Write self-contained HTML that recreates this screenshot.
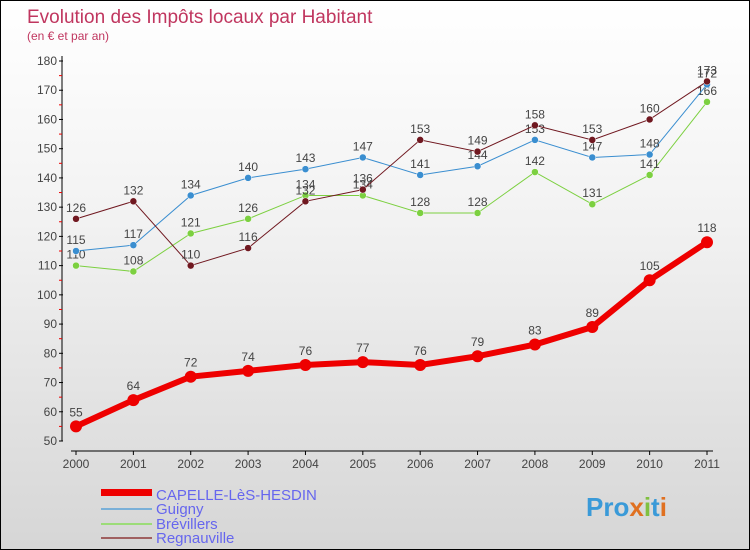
<!DOCTYPE html>
<html><head><meta charset="utf-8"><style>
body{margin:0}
#c{width:750px;height:550px;position:relative;overflow:hidden;box-sizing:border-box;border:1px solid #000;background:linear-gradient(#fff,#f2f2f2 40%,#d6d6d6);font-family:"Liberation Sans",sans-serif}
</style></head><body>
<div id="c">
<svg id="s" width="750" height="550" style="position:absolute;left:0;top:0">
<text x="26" y="22" font-size="19" fill="#c0365f">Evolution des Impôts locaux par Habitant</text>
<text x="26" y="39" font-size="12" fill="#c0365f">(en € et par an)</text>
<g id="g"></g>
<g>
<rect x="100" y="488" width="51" height="7" fill="#e00"/>
<text x="155" y="499" font-size="15" fill="#6666ee">CAPELLE-LèS-HESDIN</text>
<rect x="100" y="507" width="51" height="2" fill="#7ab0d8"/>
<text x="155" y="513" font-size="15" fill="#6666ee">Guigny</text>
<rect x="100" y="522" width="51" height="2" fill="#9cdc78"/>
<text x="155" y="528" font-size="15" fill="#6666ee">Brévillers</text>
<rect x="100" y="536" width="51" height="2" fill="#a06060"/>
<text x="155" y="542" font-size="15" fill="#6666ee">Regnauville</text>
</g>
<text x="585" y="515" font-size="26" font-weight="bold" fill="#3a9ad8">Pro<tspan fill="#e07020">x</tspan><tspan fill="#80c040">i</tspan>t<tspan fill="#e07020">i</tspan></text>
</svg>
</div>
<script>
const years=[2000,2001,2002,2003,2004,2005,2006,2007,2008,2009,2010,2011];
const capelle=[55,64,72,74,76,77,76,79,83,89,105,118];
const guigny=[115,117,134,140,143,147,141,144,153,147,148,172];
const brevillers=[110,108,121,126,134,134,128,128,142,131,141,166];
const regnauville=[126,132,110,116,132,136,153,149,158,153,160,173];
const yTicks=[50,60,70,80,90,100,110,120,130,140,150,160,170,180];
const NS="http://www.w3.org/2000/svg";
const g=document.getElementById('g');
const X=i=>75+i*(706-75)/11;
const Y=v=>440-(v-50)*380/130;
function el(t,a,name){const e=document.createElementNS(NS,t);for(const k in a)e.setAttribute(k,a[k]);


g.appendChild(e);return e;}
el('line',{x1:61,y1:55,x2:61,y2:440,stroke:'#000'},'y-axis');
el('line',{x1:70,y1:450,x2:712,y2:450,stroke:'#000'},'x-axis');
yTicks.forEach(v=>{el('line',{x1:58,x2:62,y1:Y(v),y2:Y(v),stroke:'#000'},'y-tick');
const t=el('text',{x:56,y:Y(v)+4,'font-size':12,fill:'#444','text-anchor':'end'},'y-tick-label');t.textContent=v;
if(v<180)el('line',{x1:58,x2:61,y1:Y(v+5),y2:Y(v+5),stroke:'#e00'},'y-minor-tick');});
years.forEach((y,i)=>{el('line',{x1:X(i),x2:X(i),y1:450,y2:454,stroke:'#000'},'x-tick');
const t=el('text',{x:X(i),y:467,'font-size':12,fill:'#444','text-anchor':'middle'},'x-tick-label');t.textContent=y;});
function series(d,col,w,r,name,dy){
el('polyline',{points:d.map((v,i)=>X(i)+','+Y(v)).join(' '),fill:'none',stroke:col,'stroke-width':w},name+'-line');
d.forEach((v,i)=>{el('circle',{cx:X(i),cy:Y(v),r:r,fill:col,stroke:w>2?'none':'#fff','stroke-width':0.5},name+'-point');
const t=el('text',{x:X(i),y:Y(v)-dy,'font-size':12,fill:'#444','text-anchor':'middle'},name+'-value-label');t.textContent=v;});}
series(brevillers,'#7cd040',1,3.5,'brevillers',7);
series(guigny,'#3a8ed0',1,3.5,'guigny',7);
series(regnauville,'#701820',1,3.5,'regnauville',7);
series(capelle,'#ee0000',6,6,'capelle',10);
</script>
</body></html>
